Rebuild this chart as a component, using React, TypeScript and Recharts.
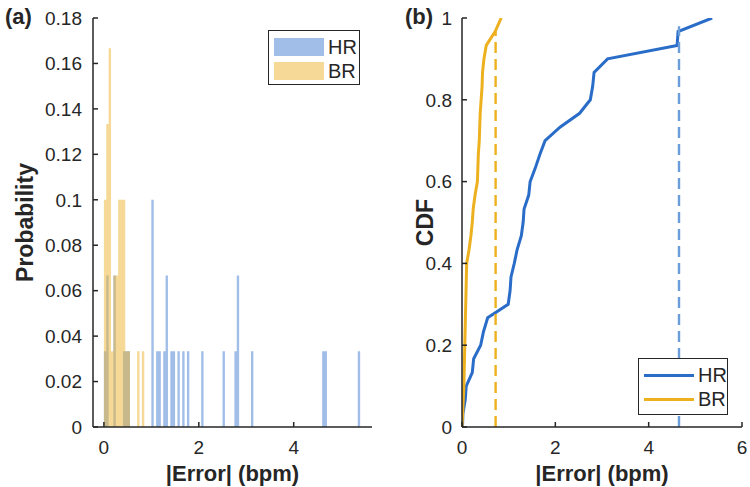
import { ComposedChart, Area, LineChart, Line, XAxis, YAxis } from "recharts";

const TEXT = "#262626";
const FONT = "'Liberation Sans', Arial, Helvetica, sans-serif";
const HR_BAR = "#417dd2";
const BR_BAR = "#edb42d";
const HR_LINE = "#2a6dc8";
const BR_LINE = "#edb120";
const HR_DASH = "#6b9ddb";

// histogram (a): bin width 0.05, probability per bin
const BIN_WIDTH = 0.05;
const hrBinStart = [0, 0.05, 0.2, 0.4, 0.45, 0.5, 1.0, 1.1, 1.15, 1.25, 1.3, 1.4, 1.45, 1.55, 1.65, 1.75, 2.05, 2.5, 2.75, 2.8, 3.1, 4.6, 4.65, 5.35];
const hrProb = [0.0333, 0.0667, 0.0667, 0.0333, 0.0333, 0.0333, 0.1, 0.0333, 0.0333, 0.0333, 0.0667, 0.0333, 0.0333, 0.0333, 0.0333, 0.0333, 0.0333, 0.0333, 0.0333, 0.0667, 0.0333, 0.0333, 0.0333, 0.0333];
const brBinStart = [0, 0.05, 0.1, 0.15, 0.2, 0.25, 0.3, 0.35, 0.4, 0.45, 0.5, 0.7, 0.8];
const brProb = [0.1, 0.1333, 0.1667, 0.0333, 0.0667, 0.0667, 0.1, 0.1, 0.1, 0.0333, 0.0333, 0.0333, 0.0333];
const histXTicks = [0, 2, 4];
const histYTicks = [0, 0.02, 0.04, 0.06, 0.08, 0.1, 0.12, 0.14, 0.16, 0.18];

// CDF (b)
const hrCdfX = [0.01, 0.02, 0.07, 0.09, 0.22, 0.25, 0.4, 0.46, 0.55, 0.99, 1.03, 1.05, 1.12, 1.18, 1.27, 1.31, 1.33, 1.43, 1.46, 1.57, 1.67, 1.78, 2.1, 2.52, 2.75, 2.8, 2.83, 3.12, 4.61, 4.63, 5.36];
const hrCdfY = [0, 0.033, 0.067, 0.1, 0.133, 0.167, 0.2, 0.233, 0.267, 0.3, 0.333, 0.367, 0.4, 0.433, 0.467, 0.5, 0.533, 0.567, 0.6, 0.633, 0.667, 0.7, 0.733, 0.767, 0.8, 0.833, 0.867, 0.9, 0.933, 0.967, 1];
const brCdfX = [0, 0.04, 0.08, 0.1, 0.15, 0.19, 0.22, 0.24, 0.28, 0.33, 0.35, 0.37, 0.39, 0.41, 0.43, 0.44, 0.47, 0.52, 0.71, 0.84];
const brCdfY = [0, 0.1, 0.3, 0.4, 0.433, 0.467, 0.5, 0.533, 0.567, 0.6, 0.667, 0.7, 0.767, 0.8, 0.833, 0.867, 0.9, 0.933, 0.967, 1];
const hr95X = [4.65, 4.65];
const hr95Y = [0, 0.98];
const br95X = [0.72, 0.72];
const br95Y = [0, 0.967];
const cdfXTicks = [0, 2, 4, 6];
const cdfYTicks = [0, 0.2, 0.4, 0.6, 0.8, 1];

const zip = (xs: number[], ys: number[]) => xs.map((x, i) => ({ x, y: ys[i] }));

function buildHist() {
  const hr = new Map(hrBinStart.map((s, i) => [Math.round(s / BIN_WIDTH), hrProb[i]]));
  const br = new Map(brBinStart.map((s, i) => [Math.round(s / BIN_WIDTH), brProb[i]]));
  const rows = [];
  for (let i = 0; i <= 112; i++) {
    rows.push({ x: +(i * BIN_WIDTH).toFixed(2), hr: hr.get(i) ?? 0, br: br.get(i) ?? 0 });
  }
  return rows;
}

const histData = buildHist();

const tickStyle = { fill: TEXT, fontSize: 19, fontFamily: FONT };
const axisStroke = { stroke: TEXT, strokeWidth: 1.5 };

const xTitle = (text: string) => (props: any) => {
  const vb = props.viewBox;
  return (
    <text x={vb.x + vb.width / 2} y={vb.y + vb.height - 1} textAnchor="middle" fill={TEXT} fontSize={22} fontWeight="bold" fontFamily={FONT}>
      {text}
    </text>
  );
};

const yTitle = (text: string, bx: number) => (props: any) => {
  const vb = props.viewBox;
  const cy = vb.y + vb.height / 2;
  return (
    <text x={bx} y={cy} transform={`rotate(-90, ${bx}, ${cy})`} textAnchor="middle" fill={TEXT} fontSize={23} fontWeight="bold" fontFamily={FONT}>
      {text}
    </text>
  );
};

function LegendBox({ left, top, kind }: { left: number; top: number; kind: "patch" | "line" }) {
  const items = [
    { name: "HR", color: kind === "patch" ? "rgba(65,125,210,0.5)" : HR_LINE },
    { name: "BR", color: kind === "patch" ? "rgba(237,180,45,0.5)" : BR_LINE },
  ];
  return (
    <div
      style={{
        position: "absolute",
        left,
        top,
        width: kind === "patch" ? 92 : 90,
        height: kind === "patch" ? 55 : 57,
        border: `1.5px solid ${TEXT}`,
        background: "#fff",
        fontFamily: FONT,
        fontSize: 20,
        color: TEXT,
        boxSizing: "border-box",
        padding: "4px 0 0 5px",
      }}
    >
      {items.map((it) => (
        <div key={it.name} style={{ display: "flex", alignItems: "center", height: 24 }}>
          <div
            style={{
              width: 50,
              height: kind === "patch" ? 18 : 3,
              background: it.color,
              marginRight: 4,
            }}
          />
          <span>{it.name}</span>
        </div>
      ))}
    </div>
  );
}

export default function App() {
  return (
    <div style={{ position: "absolute", left: 0, top: 0, width: 750, height: 487, background: "#fff", fontFamily: FONT }}>
      <div style={{ position: "absolute", left: 0, top: 0 }}>
        <ComposedChart width={380} height={487} data={histData} margin={{ top: 18, right: 8, bottom: 5, left: 0 }}>
          <XAxis
            dataKey="x"
            type="number"
            domain={[-0.23, 5.65]}
            allowDataOverflow
            ticks={histXTicks}
            height={55}
            tick={tickStyle}
            tickSize={-5}
            tickMargin={19}
            axisLine={axisStroke}
            tickLine={axisStroke}
            label={{ content: xTitle("|Error| (bpm)") }}
          />
          <YAxis
            type="number"
            domain={[0, 0.18]}
            allowDataOverflow
            ticks={histYTicks}
            width={93}
            tick={tickStyle}
            tickSize={-5}
            tickMargin={16}
            axisLine={axisStroke}
            tickLine={axisStroke}
            label={{ content: yTitle("Probability", 33) }}
          />
          <Area type="stepAfter" dataKey="hr" stroke="none" fill={HR_BAR} fillOpacity={0.5} isAnimationActive={false} />
          <Area type="stepAfter" dataKey="br" stroke="none" fill={BR_BAR} fillOpacity={0.5} isAnimationActive={false} />
        </ComposedChart>
      </div>
      <div style={{ position: "absolute", left: 380, top: 0 }}>
        <LineChart width={370} height={487} margin={{ top: 18, right: 8, bottom: 5, left: 0 }}>
          <XAxis
            dataKey="x"
            type="number"
            domain={[0, 6]}
            allowDataOverflow
            ticks={cdfXTicks}
            height={55}
            tick={tickStyle}
            tickSize={-5}
            tickMargin={19}
            axisLine={axisStroke}
            tickLine={axisStroke}
            label={{ content: xTitle("|Error| (bpm)") }}
          />
          <YAxis
            type="number"
            domain={[0, 1]}
            allowDataOverflow
            ticks={cdfYTicks}
            width={82}
            tick={tickStyle}
            tickSize={-5}
            tickMargin={15}
            axisLine={axisStroke}
            tickLine={axisStroke}
            label={{ content: yTitle("CDF", 53) }}
          />
          <Line data={zip(hrCdfX, hrCdfY)} dataKey="y" stroke={HR_LINE} strokeWidth={3} dot={false} isAnimationActive={false} />
          <Line data={zip(brCdfX, brCdfY)} dataKey="y" stroke={BR_LINE} strokeWidth={3} dot={false} isAnimationActive={false} />
          <Line data={zip(hr95X, hr95Y)} dataKey="y" stroke={HR_DASH} strokeWidth={2.4} strokeDasharray="11 6" dot={false} isAnimationActive={false} />
          <Line data={zip(br95X, br95Y)} dataKey="y" stroke={BR_LINE} strokeWidth={2.4} strokeDasharray="11 6" dot={false} isAnimationActive={false} />
        </LineChart>
      </div>
      <div style={{ position: "absolute", left: 5, top: 4, fontSize: 22, fontWeight: "bold", color: TEXT }}>(a)</div>
      <div style={{ position: "absolute", left: 405, top: 4, fontSize: 22, fontWeight: "bold", color: TEXT }}>(b)</div>
      <LegendBox left={268} top={30} kind="patch" />
      <LegendBox left={638} top={358} kind="line" />
    </div>
  );
}
